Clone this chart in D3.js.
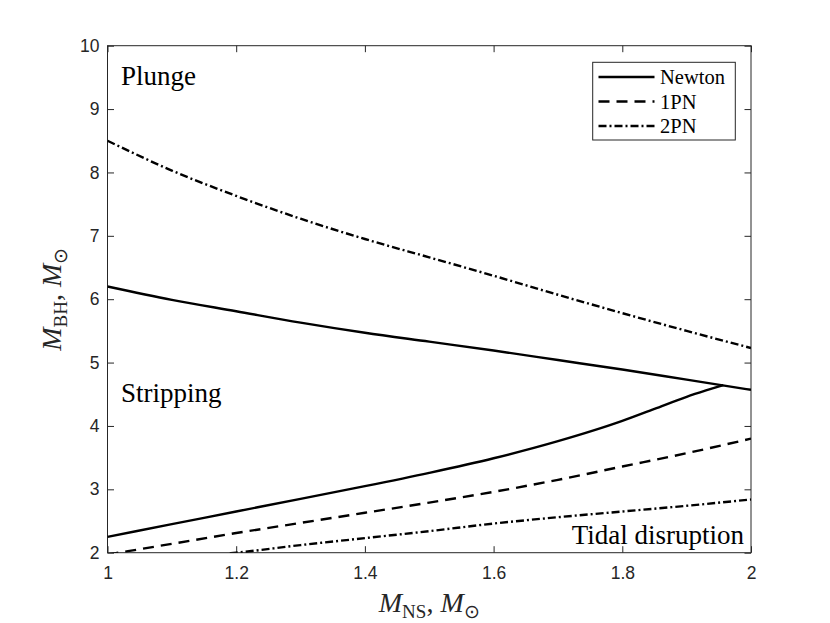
<!DOCTYPE html>
<html>
<head>
<meta charset="utf-8">
<script src="https://cdn.jsdelivr.net/npm/d3@7"></script>
<style>
  body { margin: 0; background: #fff; }
  svg { display: block; }
</style>
</head>
<body>
<div id="chart"></div>
<script>
// --- Données
const xTicks = [1, 1.2, 1.4, 1.6, 1.8, 2];
const yTicks = [2, 3, 4, 5, 6, 7, 8, 9, 10];

const newtonUpperX = [1.0, 1.1, 1.2, 1.3, 1.4, 1.5, 1.6, 1.7, 1.8, 1.9, 2.0];
const newtonUpperY = [6.2, 5.99, 5.81, 5.63, 5.47, 5.33, 5.19, 5.04, 4.89, 4.73, 4.57];

const newtonLowerX = [1.0, 1.1, 1.2, 1.3, 1.4, 1.5, 1.6, 1.7, 1.8, 1.85, 1.9, 1.93, 1.957];
const newtonLowerY = [2.25, 2.45, 2.65, 2.85, 3.05, 3.26, 3.49, 3.76, 4.08, 4.27, 4.46, 4.56, 4.645];

const pn1X = [1.0, 1.1, 1.2, 1.3, 1.4, 1.5, 1.6, 1.7, 1.8, 1.9, 2.0];
const pn1Y = [1.97, 2.14, 2.31, 2.47, 2.63, 2.79, 2.96, 3.15, 3.36, 3.57, 3.8];

const pn2UpperX = [1.0, 1.1, 1.2, 1.3, 1.4, 1.5, 1.6, 1.7, 1.8, 1.9, 2.0];
const pn2UpperY = [8.5, 8.03, 7.63, 7.27, 6.95, 6.66, 6.37, 6.07, 5.78, 5.5, 5.23];

const pn2LowerX = [1.19, 1.2, 1.3, 1.4, 1.5, 1.6, 1.7, 1.8, 1.9, 2.0];
const pn2LowerY = [1.99, 2.0, 2.12, 2.23, 2.34, 2.46, 2.56, 2.65, 2.74, 2.84];

const legendLabels = ["Newton", "1PN", "2PN"];

// --- Mise en page
const width = 830;
const height = 623;
const margin = { top: 45.7, right: 79, bottom: 70.3, left: 107.5 };
const ink = "#262626";

const svg = d3.select("#chart")
    .append("svg")
    .attr("width", width)
    .attr("height", height);

const x = d3.scaleLinear()
    .domain([1, 2])
    .range([margin.left, width - margin.right]);

const y = d3.scaleLinear()
    .domain([2, 10])
    .range([height - margin.bottom, margin.top]);

const tick = 6.5;

// --- Axes (ticks vers l'intérieur, boîte fermée)
svg.append("g")
    .attr("transform", `translate(0,${y(2)})`)
    .call(d3.axisBottom(x).tickValues(xTicks).tickFormat(d => String(d))
        .tickSizeInner(-tick).tickSizeOuter(0).tickPadding(14));

svg.append("g")
    .attr("transform", `translate(0,${y(10)})`)
    .call(d3.axisTop(x).tickValues(xTicks).tickFormat("")
        .tickSizeInner(-tick).tickSizeOuter(0));

svg.append("g")
    .attr("transform", `translate(${x(1)},0)`)
    .call(d3.axisLeft(y).tickValues(yTicks).tickFormat(d => String(d))
        .tickSizeInner(-tick).tickSizeOuter(0).tickPadding(8));

svg.append("g")
    .attr("transform", `translate(${x(2)},0)`)
    .call(d3.axisRight(y).tickValues(yTicks).tickFormat("")
        .tickSizeInner(-tick).tickSizeOuter(0));

svg.selectAll(".domain").remove();
svg.selectAll(".tick line").attr("stroke", ink).attr("stroke-width", 1);
svg.selectAll(".tick text")
    .attr("fill", ink)
    .style("font-family", "'Liberation Sans', Arial, sans-serif")
    .style("font-size", "17.5px");

// Cadre
svg.append("rect")
    .attr("x", x(1))
    .attr("y", y(10))
    .attr("width", x(2) - x(1))
    .attr("height", y(2) - y(10))
    .attr("fill", "none")
    .attr("stroke", ink)
    .attr("stroke-width", 1);

// --- Courbes
svg.append("clipPath")
    .attr("id", "plot-clip")
    .append("rect")
    .attr("x", x(1))
    .attr("y", y(10))
    .attr("width", x(2) - x(1))
    .attr("height", y(2) - y(10));

const line = d3.line()
    .x(d => x(d[0]))
    .y(d => y(d[1]))
    .curve(d3.curveMonotoneX);

const zip = (xs, ys) => xs.map((v, i) => [v, ys[i]]);

const styles = {
    Newton: null,
    "1PN": "11,7",
    "2PN": "8,3,2,3"
};

const series = [
    { name: "Newton", data: zip(newtonUpperX, newtonUpperY) },
    { name: "Newton", data: zip(newtonLowerX, newtonLowerY) },
    { name: "1PN", data: zip(pn1X, pn1Y) },
    { name: "2PN", data: zip(pn2UpperX, pn2UpperY) },
    { name: "2PN", data: zip(pn2LowerX, pn2LowerY) }
];

const plot = svg.append("g").attr("clip-path", "url(#plot-clip)");

plot.selectAll("path")
    .data(series)
    .join("path")
    .attr("d", d => line(d.data))
    .attr("fill", "none")
    .attr("stroke", "#000")
    .attr("stroke-width", 2.4)
    .attr("stroke-dasharray", d => styles[d.name]);

// --- Textes des régions
const serif = "'Liberation Serif', 'Times New Roman', serif";

const regions = [
    { text: "Plunge", x: 121, y: 85, anchor: "start" },
    { text: "Stripping", x: 121, y: 402, anchor: "start" },
    { text: "Tidal disruption", x: 744, y: 544, anchor: "end" }
];

svg.selectAll(".region")
    .data(regions)
    .join("text")
    .attr("class", "region")
    .attr("x", d => d.x)
    .attr("y", d => d.y)
    .attr("text-anchor", d => d.anchor)
    .style("font-family", serif)
    .style("font-size", "27px")
    .attr("fill", "#000")
    .text(d => d.text);

// --- Légende
const legend = svg.append("g");

legend.append("rect")
    .attr("x", 592.7)
    .attr("y", 62.3)
    .attr("width", 142.6)
    .attr("height", 77.7)
    .attr("fill", "#fff")
    .attr("stroke", ink)
    .attr("stroke-width", 1);

legendLabels.forEach((name, i) => {
    const ly = 77 + i * 24.5;
    legend.append("line")
        .attr("x1", 598.5)
        .attr("x2", 654.5)
        .attr("y1", ly)
        .attr("y2", ly)
        .attr("stroke", "#000")
        .attr("stroke-width", 2.4)
        .attr("stroke-dasharray", styles[name]);
    legend.append("text")
        .attr("x", 660)
        .attr("y", ly + 7)
        .style("font-family", serif)
        .style("font-size", "20.5px")
        .attr("fill", "#000")
        .text(name);
});

// --- Titres des axes
function axisLabel(g, sub) {
    g.append("tspan").style("font-style", "italic").text("M");
    g.append("tspan").attr("dy", 6).style("font-size", "19px").text(sub);
    g.append("tspan").attr("dy", -6).text(", ");
    g.append("tspan").style("font-style", "italic").text("M");
    g.append("tspan").attr("dy", 6).style("font-size", "19px").text("\u2299");
}

const xl = svg.append("text")
    .attr("x", (x(1) + x(2)) / 2)
    .attr("y", 612)
    .attr("text-anchor", "middle")
    .style("font-family", serif)
    .style("font-size", "28px")
    .attr("fill", ink);
axisLabel(xl, "NS");

const yl = svg.append("text")
    .attr("transform", `translate(61,${(y(2) + y(10)) / 2}) rotate(-90)`)
    .attr("text-anchor", "middle")
    .style("font-family", serif)
    .style("font-size", "28px")
    .attr("fill", ink);
axisLabel(yl, "BH");
</script>
</body>
</html>
